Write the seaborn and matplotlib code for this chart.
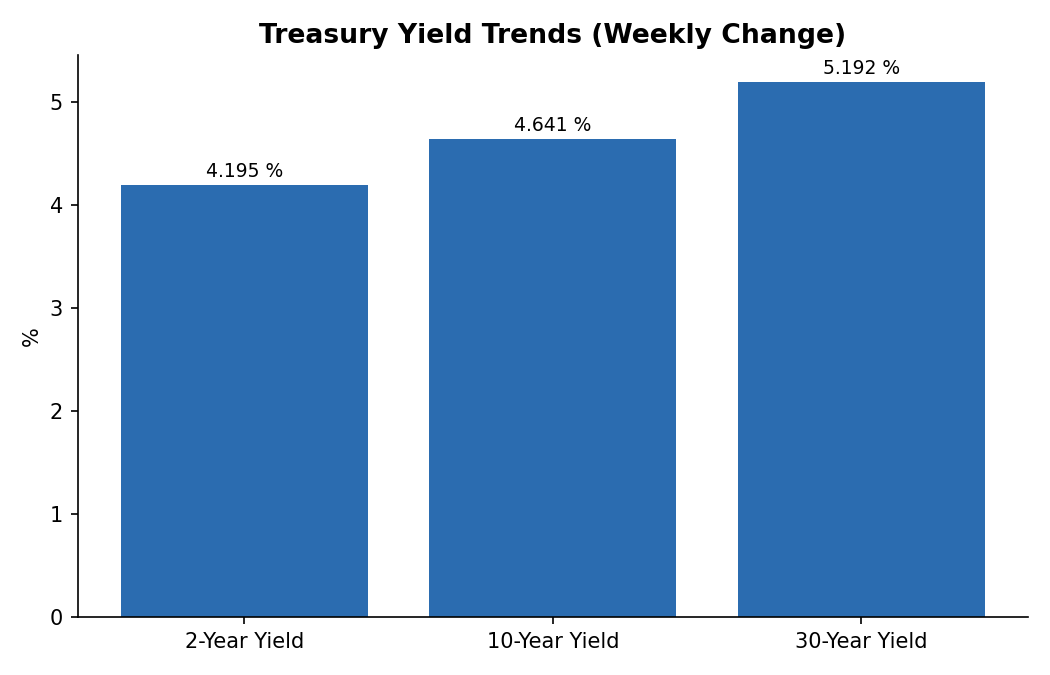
import numpy as np
import pandas as pd
import seaborn as sns
import matplotlib
matplotlib.use('Agg')
import matplotlib.pyplot as plt

plt.rcParams['font.family'] = ['DejaVu Sans']

# data
categories = ['2-Year Yield', '10-Year Yield', '30-Year Yield']
yields = [4.195, 4.641, 5.192]

df = pd.DataFrame({'tenor': categories, 'yield': yields})

fig, ax = plt.subplots(figsize=(7, 4.5), dpi=150)
sns.barplot(data=df, x='tenor', y='yield', color='#2b6cb0', saturation=1,
            width=0.8, linewidth=0, ax=ax)

# value labels above bars
for i, v in enumerate(yields):
    ax.annotate('%.3f %%' % v, (i, v), xytext=(0, 2), textcoords='offset points',
                ha='center', va='bottom', fontsize=9)

ax.set_xlim(-0.54, 2.54)
ax.set_ylim(0, max(yields) * 1.05)
ax.set_title('Treasury Yield Trends (Weekly Change)', fontsize=12.8, fontweight='bold')
ax.set_xlabel('')
ax.set_ylabel('%', fontsize=10)
ax.tick_params(labelsize=10)
sns.despine(ax=ax)

plt.subplots_adjust(left=0.074, right=0.979, top=0.918, bottom=0.086)
plt.savefig('out.png', dpi=150)
